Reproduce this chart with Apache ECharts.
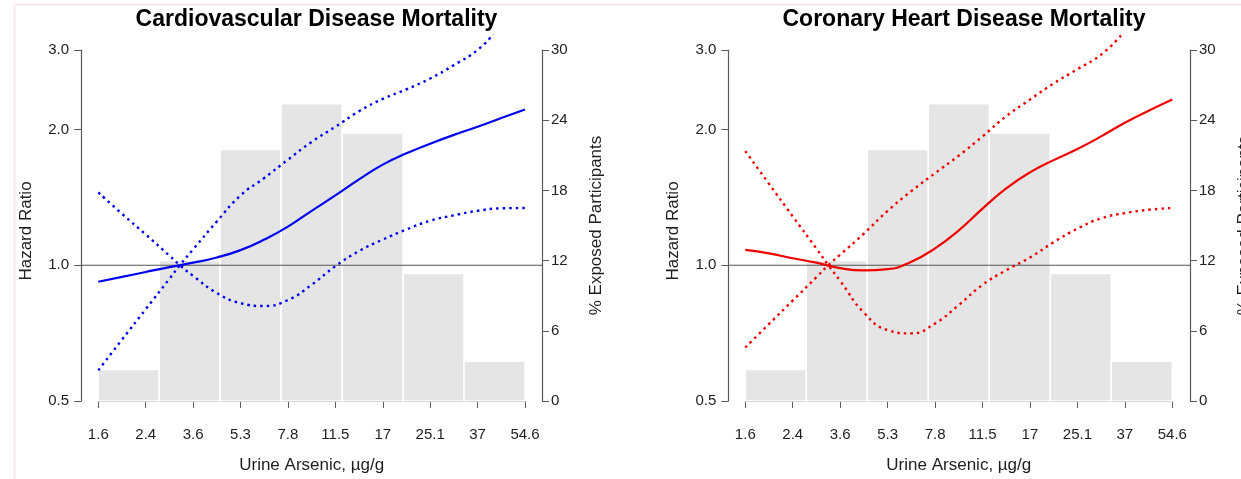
<!DOCTYPE html>
<html>
<head>
<meta charset="utf-8">
<script src="https://cdn.jsdelivr.net/npm/echarts@6/dist/echarts.min.js"></script>
<style>html,body{margin:0;padding:0;background:#fff}#c{width:1241px;height:479px}</style>
</head>
<body>
<div id="c"></div>
<script>
// ---- data (x = position on the log-spaced arsenic axis, tick index units) ----
const xTickLabels = ['1.6','2.4','3.6','5.3','7.8','11.5','17','25.1','37','54.6'];
const hrTicks = [0.5, 1.0, 2.0, 3.0];
const binEdges = [0, 1.286, 2.571, 3.857, 5.143, 6.429, 7.714, 9];
const exposedPct = [2.7, 12.0, 21.5, 25.4, 22.9, 10.9, 3.4];
const refHR = 1.0;

const cvdPos = [0,0.5,1,1.5,2,2.5,3,3.5,4,4.5,5,5.5,6,6.5,7,7.5,8,8.5,9];
const cvdHR  = [0.919,0.942,0.966,0.99,1.013,1.04,1.08,1.14,1.218,1.32,1.428,1.55,1.671,1.77,1.859,1.945,2.027,2.12,2.215];
const cvdLowPos = [0,0.5,1,1.5,1.72,2,2.5,3,3.5,4,4.5,5,5.5,6,6.5,7,7.5,8,8.5,9];
const cvdLow    = [1.45,1.30,1.17,1.05,1.0,0.947,0.868,0.824,0.812,0.837,0.905,0.995,1.075,1.14,1.20,1.255,1.29,1.32,1.337,1.339];
const cvdUpPos = [0,0.5,1,1.5,1.72,2,2.5,3,3.5,4,4.5,5,5.5,6,6.5,7,7.5,8,8.33];
const cvdUp    = [0.585,0.684,0.799,0.933,1.0,1.084,1.25,1.428,1.561,1.714,1.877,2.027,2.195,2.337,2.455,2.594,2.777,3.0,3.25];

const chdPos = [0,0.5,1,1.5,2,2.5,3,3.5,4,4.5,5,5.5,6,6.5,7,7.5,8,8.5,9];
const chdHR  = [1.081,1.062,1.036,1.013,0.985,0.974,0.98,1.018,1.09,1.195,1.335,1.48,1.606,1.71,1.81,1.93,2.07,2.20,2.33];
const chdLowPos = [0,0.5,1,1.5,1.75,2,2.5,3,3.5,4,4.5,5,5.5,6,6.5,7,7.5,8,8.5,9];
const chdLow    = [1.79,1.515,1.283,1.088,1.0,0.923,0.785,0.718,0.706,0.743,0.816,0.905,0.975,1.04,1.125,1.205,1.27,1.305,1.327,1.339];
const chdUpPos = [0,0.5,1,1.5,1.75,2,2.5,3,3.5,4,4.5,5,5.5,6,6.5,7,7.5,7.94];
const chdUp    = [0.657,0.741,0.835,0.941,1.0,1.055,1.175,1.32,1.46,1.6,1.75,1.93,2.14,2.33,2.53,2.72,2.93,3.25];

const titles = ['Cardiovascular Disease Mortality', 'Coronary Heart Disease Mortality'];
const colors = ['#0000f0', '#f00000'];

// ---- layout ----
const FONT = "'Liberation Sans', Arial, Helvetica, sans-serif";
const panels = [
  { outerLeft: 81, outerW: 461, innerLeft: 98.3, innerW: 426.7, titleX: 311.5,
    curves: [[cvdPos, cvdHR], [cvdLowPos, cvdLow], [cvdUpPos, cvdUp]] },
  { outerLeft: 728.3, outerW: 461.7, innerLeft: 745.3, innerW: 427, titleX: 959,
    curves: [[chdPos, chdHR], [chdLowPos, chdLow], [chdUpPos, chdUp]] }
];
const TOP = 50, H = 351;
const axisCol = '#5a5a5a', txtCol = '#1e1e1e';

const option = { animation: false, backgroundColor: '#fff',
  title: [], grid: [], xAxis: [], yAxis: [], series: [],
  graphic: [
    {type:'line', shape:{x1:14.5,y1:5,x2:14.5,y2:479}, style:{stroke:'#f8eaee', lineWidth:2}},
    {type:'line', shape:{x1:14,y1:4.5,x2:1241,y2:4.5}, style:{stroke:'#f8eaee', lineWidth:2}}
  ]
};

panels.forEach((p, k) => {
  option.title.push({ text: titles[k], left: p.titleX, top: 3, textAlign: 'center',
    textStyle: { fontFamily: FONT, fontSize: 23, fontWeight: 'bold', color: '#000' } });
  option.grid.push({ left: p.outerLeft, top: TOP, width: p.outerW, height: H, outerBoundsMode: 'none', containLabel: false });
  option.grid.push({ left: p.innerLeft, top: TOP, width: p.innerW, height: H, outerBoundsMode: 'none', containLabel: false });
  const gO = 2*k, gI = 2*k+1;
  option.xAxis.push({ gridIndex: gO, type: 'value', min: 0, max: 1, show: false });
  option.xAxis.push({ gridIndex: gI, type: 'value', min: 0, max: 9, interval: 1, offset: 14,
    position: 'bottom',
    axisLine: { show: true, lineStyle: { color: axisCol, width: 1.2 } },
    axisTick: { show: true, length: 7, lineStyle: { color: axisCol, width: 1 } },
    axisLabel: { show: true, margin: 12, color: txtCol, fontFamily: FONT, fontSize: 15,
      formatter: v => xTickLabels[Math.round(v)] || '' },
    splitLine: { show: false },
    name: 'Urine Arsenic, µg/g', nameLocation: 'middle', nameGap: 42,
    nameTextStyle: { fontFamily: FONT, fontSize: 17, color: txtCol } });
  option.yAxis.push({ gridIndex: gO, type: 'log', logBase: 10, min: 0.5, max: 3, position: 'left',
    axisLine: { show: true, lineStyle: { color: axisCol, width: 1.2 } },
    axisTick: { show: true, length: 7, customValues: hrTicks, lineStyle: { color: axisCol } },
    axisLabel: { show: true, margin: 12, customValues: hrTicks, color: txtCol, fontFamily: FONT, fontSize: 15,
      formatter: v => Number(v).toFixed(1) },
    splitLine: { show: false },
    name: 'Hazard Ratio', nameLocation: 'middle', nameRotate: 90, nameGap: 46,
    nameTextStyle: { fontFamily: FONT, fontSize: 17, color: txtCol, padding: [0, 11, 0, 0] } });
  option.yAxis.push({ gridIndex: gO, type: 'value', min: 0, max: 30, interval: 6, position: 'right',
    axisLine: { show: true, lineStyle: { color: axisCol, width: 1.2 } },
    axisTick: { show: true, length: 7, lineStyle: { color: axisCol } },
    axisLabel: { show: true, margin: 9, color: txtCol, fontFamily: FONT, fontSize: 15 },
    splitLine: { show: false },
    name: '% Exposed Participants', nameLocation: 'middle', nameRotate: 90, nameGap: 46,
    nameTextStyle: { fontFamily: FONT, fontSize: 17, color: txtCol } });
  option.yAxis.push({ gridIndex: gI, type: 'log', logBase: 10, min: 0.5, max: 3, show: false });
  option.yAxis.push({ gridIndex: gI, type: 'value', min: 0, max: 30, show: false });

  const xO = 2*k, xI = 2*k+1, yHR = 4*k, yPctInner = 4*k+3, yHRInner = 4*k+2;

  option.series.push({ type: 'custom', xAxisIndex: xI, yAxisIndex: yPctInner, z: 1,
    data: exposedPct.map((v, i) => [binEdges[i], binEdges[i+1], v]),
    encode: { x: [0, 1], y: 2 },
    renderItem: (params, api) => {
      const a = api.coord([api.value(0), 0]);
      const b = api.coord([api.value(1), api.value(2)]);
      return { type: 'rect', shape: { x: a[0], y: b[1], width: b[0]-a[0], height: a[1]-b[1] },
        style: { fill: '#e5e5e5', stroke: '#ffffff', lineWidth: 1.5 } };
    } });
  option.series.push({ type: 'line', xAxisIndex: xO, yAxisIndex: yHR, z: 2, symbol: 'none',
    data: [[0, refHR], [1, refHR]], lineStyle: { color: '#555', width: 1.1 }, silent: true });
  p.curves.forEach((c, j) => {
    option.series.push({ type: 'line', xAxisIndex: xI, yAxisIndex: yHRInner, z: 3, symbol: 'none',
      smooth: 0.5, clip: false,
      data: c[0].map((x, i) => [x, c[1][i]]),
      lineStyle: j === 0 ? { color: colors[k], width: 2.2 }
                         : { color: colors[k], width: 2.4, type: [2.5, 4] } });
  });
});

const chart = echarts.init(document.getElementById('c'), null, { renderer: 'canvas' });
chart.setOption(option);
</script>
</body>
</html>
